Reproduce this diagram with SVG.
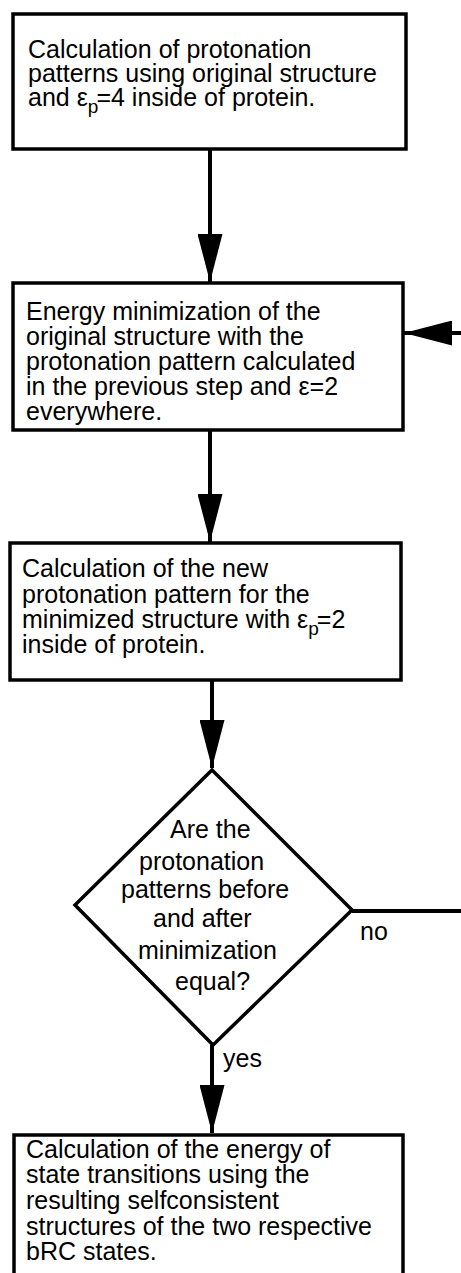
<svg xmlns="http://www.w3.org/2000/svg" width="461" height="1273" viewBox="0 0 461 1273">
<style>
.box{fill:#fff;stroke:#000;stroke-width:3.5}
.t{font-family:"Liberation Sans",Arial,sans-serif;font-size:25px;fill:#000}
.sub{font-size:19px}
.c{fill:none;stroke:#000;stroke-width:4}
</style>
<defs>
<marker id="ah" markerUnits="userSpaceOnUse" viewBox="0 0 48 25" markerWidth="48" markerHeight="25" refX="48" refY="12.5" orient="auto">
<path d="M0,0 L48,12.5 L0,25 Z" fill="#000"/>
</marker>
</defs>
<rect width="461" height="1273" fill="#fff"/>
<g id="connectors">
<path class="c" d="M210,149 V282" marker-end="url(#ah)"/>
<path class="c" d="M210,430 V542" marker-end="url(#ah)"/>
<path class="c" d="M212,680 V768" marker-end="url(#ah)"/>
<path class="c" d="M212,1045 V1133" marker-end="url(#ah)"/>
<path class="c" d="M352,911 H461"/>
<path class="c" d="M461,333 H404" marker-end="url(#ah)"/>
<text class="t" x="360" y="940">no</text>
<text class="t" x="223" y="1067">yes</text>
</g>
<g id="n1">
<rect class="box" x="13" y="14" width="393" height="135"/>
<text class="t" x="28" y="58">Calculation of protonation</text>
<text class="t" x="28" y="82">patterns using original structure</text>
<text class="t" x="28" y="106">and ε<tspan class="sub" dy="7">p</tspan><tspan dy="-7" dx="-2">=4 inside of protein.</tspan></text>
</g>
<g id="n2">
<rect class="box" x="13" y="283" width="390" height="147"/>
<text class="t" x="26" y="320">Energy minimization of the</text>
<text class="t" x="26" y="345">original structure with the</text>
<text class="t" x="26" y="370">protonation pattern calculated</text>
<text class="t" x="26" y="395">in the previous step and ε=2</text>
<text class="t" x="26" y="420">everywhere.</text>
</g>
<g id="n3">
<rect class="box" x="10" y="543" width="391" height="137"/>
<text class="t" x="22" y="577">Calculation of the new</text>
<text class="t" x="22" y="603">protonation pattern for the</text>
<text class="t" x="22" y="628">minimized structure with ε<tspan class="sub" dy="7">p</tspan><tspan dy="-7" dx="-2">=2</tspan></text>
<text class="t" x="22" y="653">inside of protein.</text>
</g>
<g id="n4">
<path class="box" d="M212,770 L352,910 L213,1045 L75,905 Z"/>
<text class="t" x="170" y="838">Are the</text>
<text class="t" x="139" y="870">protonation</text>
<text class="t" x="121" y="898">patterns before</text>
<text class="t" x="153" y="927">and after</text>
<text class="t" x="138" y="959">minimization</text>
<text class="t" x="175" y="990">equal?</text>
</g>
<g id="n5">
<rect class="box" x="14" y="1135" width="389" height="160"/>
<text class="t" x="26" y="1158">Calculation of the energy of</text>
<text class="t" x="26" y="1183">state transitions using the</text>
<text class="t" x="26" y="1209">resulting selfconsistent</text>
<text class="t" x="26" y="1235">structures of the two respective</text>
<text class="t" x="26" y="1260">bRC states.</text>
</g>
</svg>
